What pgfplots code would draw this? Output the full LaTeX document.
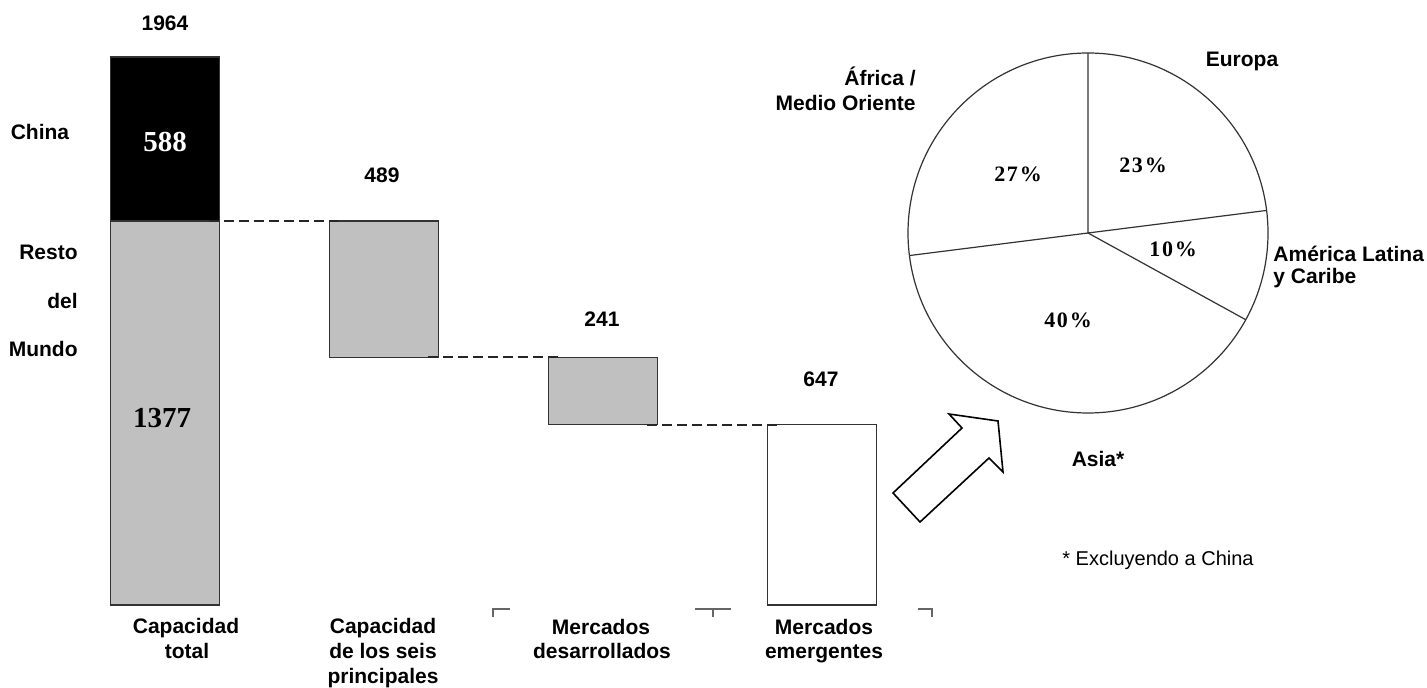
\documentclass[border=0pt]{standalone}
\usepackage{fontspec}
\setmainfont{Liberation Sans}
\newfontfamily\numfont{Liberation Serif}
\newfontfamily\pctfont[LetterSpace=8]{Liberation Serif}
\usepackage{pgfplots}
\pgfplotsset{compat=1.18}
\definecolor{barGray}{RGB}{192,192,192}
\begin{document}
\begin{tikzpicture}
\path[use as bounding box] (0pt,0pt) rectangle (713.5pt,-344pt);
% waterfall bars
\begin{axis}[at={(27.75pt,-302.5pt)}, anchor=south west, scale only axis,
  width=438pt, height=274pt, xmin=-0.5, xmax=3.5, ymin=0, ymax=1965,
  hide axis, clip=false, ybar stacked, bar width=0.5]
\addplot[draw=none, fill=none] coordinates {(0,0) (1,888) (2,647) (3,0)};
\addplot[fill=barGray, draw=black!80, line width=0.7pt] coordinates {(0,1377) (1,489) (2,241) (3,0)};
\addplot[fill=white, draw=black!80, line width=0.7pt] coordinates {(0,0) (1,0) (2,0) (3,647)};
\addplot[fill=black, draw=black!80, line width=0.7pt] coordinates {(0,588) (1,0) (2,0) (3,0)};
\end{axis}
% connectors
\begin{axis}[at={(27.75pt,-302.5pt)}, anchor=south west, scale only axis,
  width=438pt, height=274pt, xmin=-0.5, xmax=3.5, ymin=0, ymax=1965,
  hide axis, clip=false]
\addplot[black!85, line width=1pt, dash pattern=on 5pt off 2.5pt] coordinates {(0.2,1377) (0.8,1377)};
\addplot[black!85, line width=1pt, dash pattern=on 5pt off 2.5pt] coordinates {(1.2,888) (1.8,888)};
\addplot[black!85, line width=1pt, dash pattern=on 5pt off 2.5pt] coordinates {(2.2,647) (2.8,647)};
\end{axis}
% pie
\begin{axis}[at={(454pt,-206.5pt)}, anchor=south west, scale only axis,
  width=180pt, height=180pt, xmin=-1, xmax=1, ymin=-1, ymax=1,
  hide axis, clip=false]
\draw[black!80, line width=0.6pt, fill=white] (axis cs:0,0) circle[radius=1];
\addplot[black!80, line width=0.6pt] coordinates {(0,1) (0,0) (0.99211,0.12533)};
\addplot[black!80, line width=0.6pt] coordinates {(0,0) (0.87631,-0.48175)};
\addplot[black!80, line width=0.6pt] coordinates {(0,0) (-0.99211,-0.12533)};
\end{axis}
\begin{scope}[x=0.5pt, y=-0.5pt]
% arrow
\draw[black, line width=0.8pt, line join=miter, fill=white]
  (893,493) -- (962,428) -- (949,414) -- (998,421) -- (1003,472) -- (989,458) -- (920,522) -- cycle;
% axis remnants
\draw[black!60, line width=0.6pt] (493,617) -- (493,609) -- (510,609);
\draw[black!60, line width=0.6pt] (695,609) -- (731,609) (713,609) -- (713,617);
\draw[black!60, line width=0.6pt] (918,609) -- (932,609) -- (932,617);
\begin{scope}[font=\fontsize{10.5}{12.5}\selectfont\bfseries]
\node[anchor=base, inner sep=0pt] at (165,31) {1964};
\node[anchor=base, inner sep=0pt] at (40,140) {China};
\node[anchor=base east, inner sep=0pt] at (78,260) {Resto};
\node[anchor=base east, inner sep=0pt] at (78,309) {del};
\node[anchor=base east, inner sep=0pt] at (78,357) {Mundo};
\node[anchor=base, inner sep=0pt] at (382,183) {489};
\node[anchor=base, inner sep=0pt] at (602,327) {241};
\node[anchor=base, inner sep=0pt] at (821,387) {647};
\node[anchor=base, inner sep=0pt] at (186,633) {Capacidad};
\node[anchor=base, inner sep=0pt] at (187,658) {total};
\node[anchor=base, inner sep=0pt] at (383,633) {Capacidad};
\node[anchor=base, inner sep=0pt] at (383,658) {de los seis};
\node[anchor=base, inner sep=0pt] at (383,683) {principales};
\node[anchor=base, inner sep=0pt] at (601,634) {Mercados};
\node[anchor=base, inner sep=0pt] at (602,658) {desarrollados};
\node[anchor=base, inner sep=0pt] at (824,634) {Mercados};
\node[anchor=base, inner sep=0pt] at (824,658) {emergentes};
\node[anchor=base, inner sep=0pt] at (1242,67) {Europa};
\node[anchor=base east, inner sep=0pt] at (916,86) {África /};
\node[anchor=base east, inner sep=0pt] at (916,111) {Medio Oriente};
\node[anchor=base west, inner sep=0pt] at (1273,262) {América Latina};
\node[anchor=base west, inner sep=0pt] at (1273,284) {y Caribe};
\node[anchor=base, inner sep=0pt] at (1098,467) {Asia*};
\end{scope}
\node[anchor=base west, inner sep=0pt, font=\fontsize{10}{12}\selectfont] at (1062,565) {* Excluyendo a China};
\begin{scope}[font=\fontsize{14.5}{16}\selectfont\numfont\bfseries]
\node[anchor=base, inner sep=0pt, text=white] at (165,152) {588};
\node[anchor=base, inner sep=0pt] at (162,428) {1377};
\end{scope}
\begin{scope}[font=\fontsize{11}{13}\selectfont\pctfont\bfseries]
\node[anchor=base, inner sep=0pt] at (1143,173) {23\%};
\node[anchor=base, inner sep=0pt] at (1018,182) {27\%};
\node[anchor=base, inner sep=0pt] at (1173,257) {10\%};
\node[anchor=base, inner sep=0pt] at (1068,328) {40\%};
\end{scope}
\end{scope}
\end{tikzpicture}
\end{document}
